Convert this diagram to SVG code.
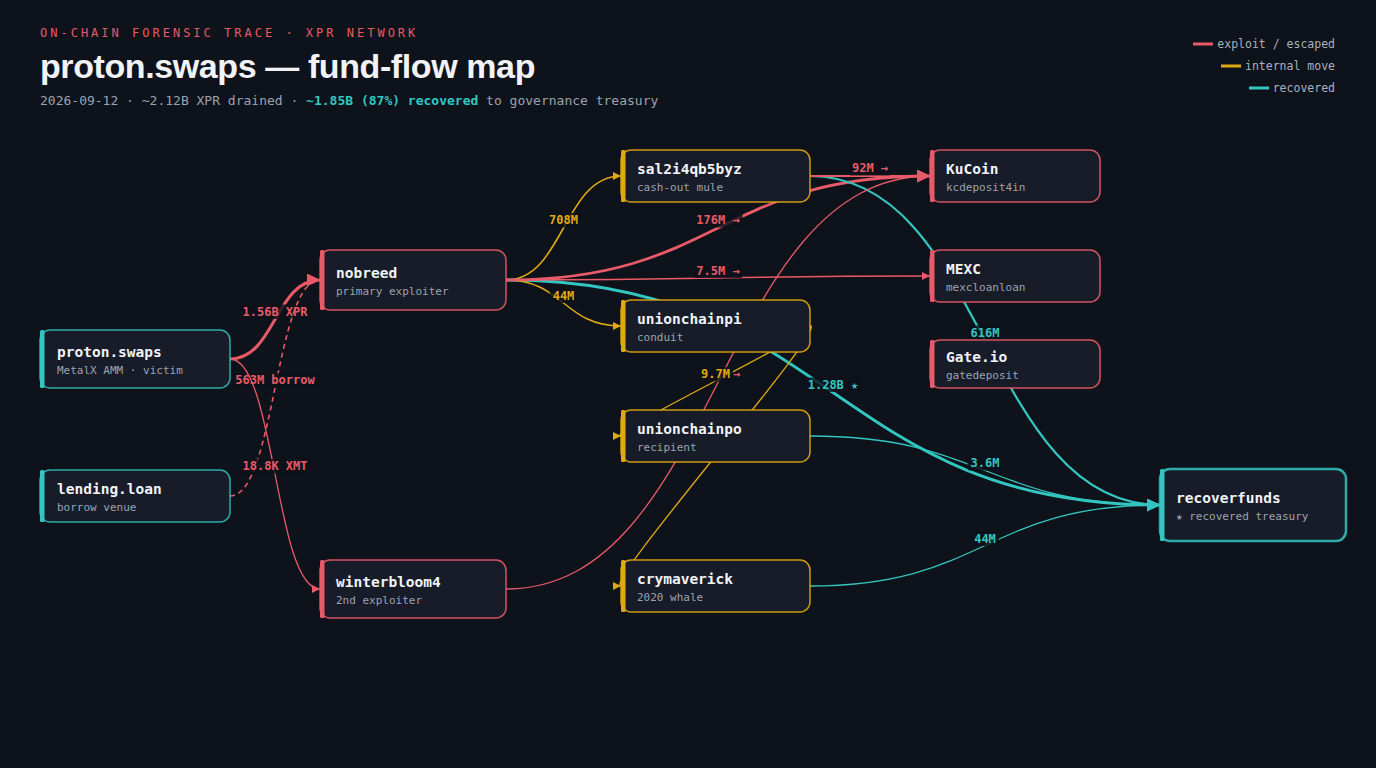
<svg xmlns="http://www.w3.org/2000/svg" width="1376" height="768" viewBox="0 0 1376 768">
<defs>
<marker id="ar-red-lg" viewBox="0 0 10 10" refX="10" refY="5" markerWidth="13" markerHeight="13" markerUnits="userSpaceOnUse" orient="auto"><path d="M0,0 L10,5 L0,10 z" fill="#e85a68"/></marker>
<marker id="ar-red-sm" viewBox="0 0 10 10" refX="10" refY="5" markerWidth="8" markerHeight="8" markerUnits="userSpaceOnUse" orient="auto"><path d="M0,0 L10,5 L0,10 z" fill="#e85a68"/></marker>
<marker id="ar-gold-sm" viewBox="0 0 10 10" refX="10" refY="5" markerWidth="8" markerHeight="8" markerUnits="userSpaceOnUse" orient="auto"><path d="M0,0 L10,5 L0,10 z" fill="#dfa912"/></marker>
<marker id="ar-teal-lg" viewBox="0 0 10 10" refX="10" refY="5" markerWidth="13" markerHeight="13" markerUnits="userSpaceOnUse" orient="auto"><path d="M0,0 L10,5 L0,10 z" fill="#33c6c0"/></marker>
<marker id="ar-teal-sm" viewBox="0 0 10 10" refX="10" refY="5" markerWidth="8" markerHeight="8" markerUnits="userSpaceOnUse" orient="auto"><path d="M0,0 L10,5 L0,10 z" fill="#33c6c0"/></marker>
</defs>
<style>
.mono{font-family:"DejaVu Sans Mono","Liberation Mono",monospace}
.kicker{font-size:12px;letter-spacing:3px;fill:#e85a68}
.title{font-family:"Liberation Sans",Arial,sans-serif;font-weight:700;font-size:34px;letter-spacing:-0.4px;fill:#f1f3f7}
.sub{font-size:13px;fill:#9ba3b0}
.hl{fill:#33c6c0;font-weight:700}
.leg{font-size:11.5px;fill:#a9b1bf;text-anchor:end}
.node rect.box{fill:#171c28;stroke-width:1.5}
.nt{font-family:"DejaVu Sans Mono","Liberation Mono",monospace;font-weight:700;font-size:14.5px;fill:#f1f3f7}
.ns{font-family:"DejaVu Sans Mono","Liberation Mono",monospace;font-size:11px;fill:#9ba3b0}
.red rect.box{stroke:#e85a68;stroke-opacity:0.9}
.red rect.bar{fill:#e85a68}
.gold rect.box{stroke:#dfa912;stroke-opacity:0.9}
.gold rect.bar{fill:#dfa912}
.teal rect.box{stroke:#33c6c0;stroke-opacity:0.85}
.teal rect.bar{fill:#33c6c0}
.e{fill:none}
.er{stroke:#e85a68}
.eg{stroke:#dfa912}
.et{stroke:#33c6c0}
.lb{fill:#0e121b;fill-opacity:0.82}
.lt{font-family:"DejaVu Sans Mono","Liberation Mono",monospace;font-weight:700;font-size:12px;text-anchor:middle}
.lr{fill:#e85a68}
.lg{fill:#dfa912}
.ltl{fill:#33c6c0}
</style>
<rect x="0" y="0" width="1376" height="768" fill="#0e121b"/>

<g id="header">
<text class="mono kicker" x="40" y="37">ON-CHAIN FORENSIC TRACE · XPR NETWORK</text>
<text class="title" x="40" y="78">proton.swaps — fund-flow map</text>
<text class="mono sub" x="40" y="105">2026-09-12 · ~2.12B XPR drained · <tspan class="hl">~1.85B (87%) recovered</tspan> to governance treasury</text>
</g>

<g id="legend">
<line x1="1193" y1="44" x2="1213" y2="44" stroke="#e85a68" stroke-width="3"/>
<text class="mono leg" x="1335" y="48">exploit / escaped</text>
<line x1="1221" y1="66" x2="1241" y2="66" stroke="#dfa912" stroke-width="3"/>
<text class="mono leg" x="1335" y="70">internal move</text>
<line x1="1249" y1="88" x2="1269" y2="88" stroke="#33c6c0" stroke-width="3"/>
<text class="mono leg" x="1335" y="92">recovered</text>
</g>

<g id="connectors">
<g id="e-proton-nobreed">
<path class="e er" d="M230,359 C275,359 275,280 320,280" stroke-width="3" marker-end="url(#ar-red-lg)"/>
<rect class="lb" x="239.5" y="304.5" width="71" height="14.5" rx="2"/>
<text class="lt lr" x="275" y="315.5">1.56B XPR</text>
</g>
<g id="e-lending-nobreed">
<path class="e er" d="M230,496 C275,496 275,280 320,280" stroke-width="1.6" stroke-dasharray="5 4" marker-end="url(#ar-red-sm)"/>
<rect class="lb" x="232.3" y="373" width="85.4" height="14.5" rx="2"/>
<text class="lt lr" x="275" y="384">563M borrow</text>
</g>
<g id="e-proton-winterbloom4">
<path class="e er" d="M230,359 C275,359 275,589 320,589" stroke-width="1.3" marker-end="url(#ar-red-sm)"/>
<rect class="lb" x="239.5" y="459" width="71" height="14.5" rx="2"/>
<text class="lt lr" x="275" y="470">18.8K XMT</text>
</g>
<g id="e-nobreed-recoverfunds">
<path class="e et" d="M506,280 C833,280 833,505 1160,505" stroke-width="2.8" marker-end="url(#ar-teal-lg)"/>
<rect class="lb" x="804.7" y="377.5" width="56.5" height="14.5" rx="2"/>
<text class="lt ltl" x="833" y="388.5">1.28B ★</text>
</g>
<g id="e-nobreed-sal2i">
<path class="e eg" d="M506,280 C563.5,280 563.5,176 621,176" stroke-width="1.6" marker-end="url(#ar-gold-sm)"/>
<rect class="lb" x="546" y="213" width="35" height="14.5" rx="2"/>
<text class="lt lg" x="563.5" y="224">708M</text>
</g>
<g id="e-nobreed-unionchainpi">
<path class="e eg" d="M506,280 C563.5,280 563.5,326 621,326" stroke-width="1.6" marker-end="url(#ar-gold-sm)"/>
<rect class="lb" x="549.6" y="288.5" width="27.7" height="14.5" rx="2"/>
<text class="lt lg" x="563.5" y="299.5">44M</text>
</g>
<g id="e-nobreed-kucoin">
<path class="e er" d="M506,280 C718,280 718,176 930,176" stroke-width="2.8" marker-end="url(#ar-red-lg)"/>
<rect class="lb" x="693.3" y="213" width="49.3" height="14.5" rx="2"/>
<text class="lt lr" x="718" y="224">176M →</text>
</g>
<g id="e-nobreed-mexc">
<path class="e er" d="M506,280 C718,280 718,276 930,276" stroke-width="1.5" marker-end="url(#ar-red-sm)"/>
<rect class="lb" x="693.3" y="263.5" width="49.3" height="14.5" rx="2"/>
<text class="lt lr" x="718" y="274.5">7.5M →</text>
</g>
<g id="e-sal2i-recoverfunds">
<path class="e et" d="M810,176 C985,176 985,505 1160,505" stroke-width="2.2" marker-end="url(#ar-teal-lg)"/>
<rect class="lb" x="967.5" y="325.5" width="35" height="14.5" rx="2"/>
<text class="lt ltl" x="985" y="336.5">616M</text>
</g>
<g id="e-sal2i-kucoin">
<path class="e er" d="M810,176 C870,176 870,176 930,176" stroke-width="2" marker-end="url(#ar-red-lg)"/>
<rect class="lb" x="849" y="161" width="42" height="14.5" rx="2"/>
<text class="lt lr" x="870" y="172">92M →</text>
</g>
<g id="e-winterbloom4-kucoin">
<path class="e er" d="M506,589 C718,589 718,176 930,176" stroke-width="1.3" marker-end="url(#ar-red-sm)"/>
<text class="lt lr" x="736.5" y="378">→</text>
</g>
<g id="e-unionchainpi-unionchainpo">
<path class="e eg" d="M810,326 C830,326 601,436 621,436" stroke-width="1.3" marker-end="url(#ar-gold-sm)"/>
<rect class="lb" x="698" y="367" width="35" height="14.5" rx="2"/>
<text class="lt lg" x="715.5" y="378">9.7M</text>
</g>
<g id="e-unionchainpi-crymaverick">
<path class="e eg" d="M810,326 C830,326 601,586 621,586" stroke-width="1.3" marker-end="url(#ar-gold-sm)"/>
</g>
<g id="e-unionchainpo-recoverfunds">
<path class="e et" d="M810,436 C985,436 985,505 1160,505" stroke-width="1.3" marker-end="url(#ar-teal-sm)"/>
<rect class="lb" x="967.5" y="456" width="35" height="14.5" rx="2"/>
<text class="lt ltl" x="985" y="467">3.6M</text>
</g>
<g id="e-crymaverick-recoverfunds">
<path class="e et" d="M810,586 C985,586 985,505 1160,505" stroke-width="1.3" marker-end="url(#ar-teal-sm)"/>
<rect class="lb" x="971.2" y="531.5" width="27.7" height="14.5" rx="2"/>
<text class="lt ltl" x="985" y="542.5">44M</text>
</g>
</g>

<g id="n-proton-swaps" class="node teal">
<rect class="box" x="40" y="330" width="190" height="58" rx="10"/>
<rect class="bar" x="40" y="330" width="4.5" height="58" rx="1.5"/>
<text class="nt" x="57" y="357">proton.swaps</text>
<text class="ns" x="57" y="374">MetalX AMM · victim</text>
</g>
<g id="n-lending-loan" class="node teal">
<rect class="box" x="40" y="470" width="190" height="52" rx="10"/>
<rect class="bar" x="40" y="470" width="4.5" height="52" rx="1.5"/>
<text class="nt" x="57" y="494">lending.loan</text>
<text class="ns" x="57" y="511">borrow venue</text>
</g>
<g id="n-nobreed" class="node red">
<rect class="box" x="320" y="250" width="186" height="60" rx="10"/>
<rect class="bar" x="320" y="250" width="4.5" height="60" rx="1.5"/>
<text class="nt" x="336" y="278">nobreed</text>
<text class="ns" x="336" y="295">primary exploiter</text>
</g>
<g id="n-winterbloom4" class="node red">
<rect class="box" x="320" y="560" width="186" height="58" rx="10"/>
<rect class="bar" x="320" y="560" width="4.5" height="58" rx="1.5"/>
<text class="nt" x="336" y="587">winterbloom4</text>
<text class="ns" x="336" y="604">2nd exploiter</text>
</g>
<g id="n-sal2i4qb5byz" class="node gold">
<rect class="box" x="621" y="150" width="189" height="52" rx="10"/>
<rect class="bar" x="621" y="150" width="4.5" height="52" rx="1.5"/>
<text class="nt" x="637" y="174">sal2i4qb5byz</text>
<text class="ns" x="637" y="191">cash-out mule</text>
</g>
<g id="n-unionchainpi" class="node gold">
<rect class="box" x="621" y="300" width="189" height="52" rx="10"/>
<rect class="bar" x="621" y="300" width="4.5" height="52" rx="1.5"/>
<text class="nt" x="637" y="324">unionchainpi</text>
<text class="ns" x="637" y="341">conduit</text>
</g>
<g id="n-unionchainpo" class="node gold">
<rect class="box" x="621" y="410" width="189" height="52" rx="10"/>
<rect class="bar" x="621" y="410" width="4.5" height="52" rx="1.5"/>
<text class="nt" x="637" y="434">unionchainpo</text>
<text class="ns" x="637" y="451">recipient</text>
</g>
<g id="n-crymaverick" class="node gold">
<rect class="box" x="621" y="560" width="189" height="52" rx="10"/>
<rect class="bar" x="621" y="560" width="4.5" height="52" rx="1.5"/>
<text class="nt" x="637" y="584">crymaverick</text>
<text class="ns" x="637" y="601">2020 whale</text>
</g>
<g id="n-kucoin" class="node red">
<rect class="box" x="930" y="150" width="170" height="52" rx="10"/>
<rect class="bar" x="930" y="150" width="4.5" height="52" rx="1.5"/>
<text class="nt" x="946" y="174">KuCoin</text>
<text class="ns" x="946" y="191">kcdeposit4in</text>
</g>
<g id="n-mexc" class="node red">
<rect class="box" x="930" y="250" width="170" height="52" rx="10"/>
<rect class="bar" x="930" y="250" width="4.5" height="52" rx="1.5"/>
<text class="nt" x="946" y="274">MEXC</text>
<text class="ns" x="946" y="291">mexcloanloan</text>
</g>
<g id="n-gate-io" class="node red">
<rect class="box" x="930" y="340" width="170" height="48" rx="10"/>
<rect class="bar" x="930" y="340" width="4.5" height="48" rx="1.5"/>
<text class="nt" x="946" y="362">Gate.io</text>
<text class="ns" x="946" y="379">gatedeposit</text>
</g>
<g id="n-recoverfunds" class="node teal">
<rect class="box" x="1160" y="469" width="186" height="72" rx="10" style="stroke-width:2.5"/>
<rect class="bar" x="1160" y="469" width="4.5" height="72" rx="1.5"/>
<text class="nt" x="1176" y="503">recoverfunds</text>
<text class="ns" x="1176" y="520">★ recovered treasury</text>
</g>
</svg>
